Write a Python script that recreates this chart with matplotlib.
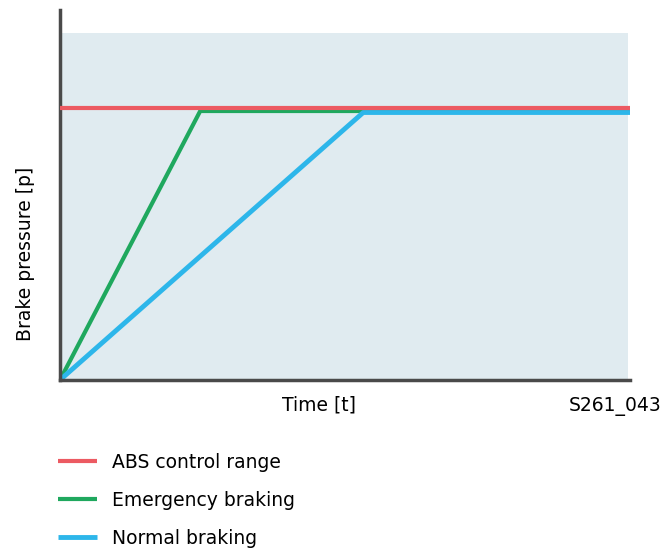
import matplotlib
matplotlib.use("Agg")
import matplotlib.pyplot as plt

# data (time, pressure in arbitrary units)
abs_t = [0, 100]
abs_p = [73.5, 73.5]
emerg_t = [0, 24.6, 100]
emerg_p = [0, 72.7, 72.7]
normal_t = [0, 53.2, 100]
normal_p = [0, 72.3, 72.3]
shade_top = 93.8
labels = ["ABS control range", "Emergency braking", "Normal braking"]
colors = ["#ec5a62", "#1fa85e", "#2db6ea"]

plt.rcParams['font.family'] = ['DejaVu Sans']

fig = plt.figure(figsize=(6.69, 5.49), dpi=100)
W, H = 669, 549
ax = fig.add_axes([60 / W, 1 - 380 / H, 570 / W, 370 / H])
ax.set_xlim(0, 100)
ax.set_ylim(0, 100)
ax.axhspan(0, shade_top, xmin=0, xmax=99.6 / 100, color="#e0ebf0", zorder=0, lw=0)

l1, = ax.plot(abs_t, abs_p, color=colors[0], lw=3, solid_capstyle='butt', zorder=3)
l2, = ax.plot(emerg_t, emerg_p, color=colors[1], lw=3, solid_capstyle='butt', zorder=2)
l3, = ax.plot(normal_t, normal_p, color=colors[2], lw=3.5, solid_capstyle='butt', zorder=2)

for s in ["top", "right"]:
    ax.spines[s].set_visible(False)
for s in ["left", "bottom"]:
    ax.spines[s].set_color("#4a4a4a")
    ax.spines[s].set_linewidth(2.5)
ax.set_xticks([])
ax.set_yticks([])
fs = 13.5
fig.text(319 / W, 1 - 405 / H, "Time [t]", fontsize=fs, ha="center", va="center")
fig.text(26 / W, 1 - 254 / H, "Brake pressure [p]", fontsize=fs, ha="center",
         va="center", rotation=90)
fig.text(661 / W, 1 - 406 / H, "S261_043", fontsize=fs, ha="right", va="center")

fig.legend([l1, l2, l3], labels, loc="upper left",
           bbox_to_anchor=(58 / W, 1 - 453 / H), frameon=False,
           borderaxespad=0, borderpad=0,
           fontsize=fs, handlelength=2.1, handletextpad=0.8,
           labelspacing=1.0)

fig.savefig("out.png", dpi=100)
